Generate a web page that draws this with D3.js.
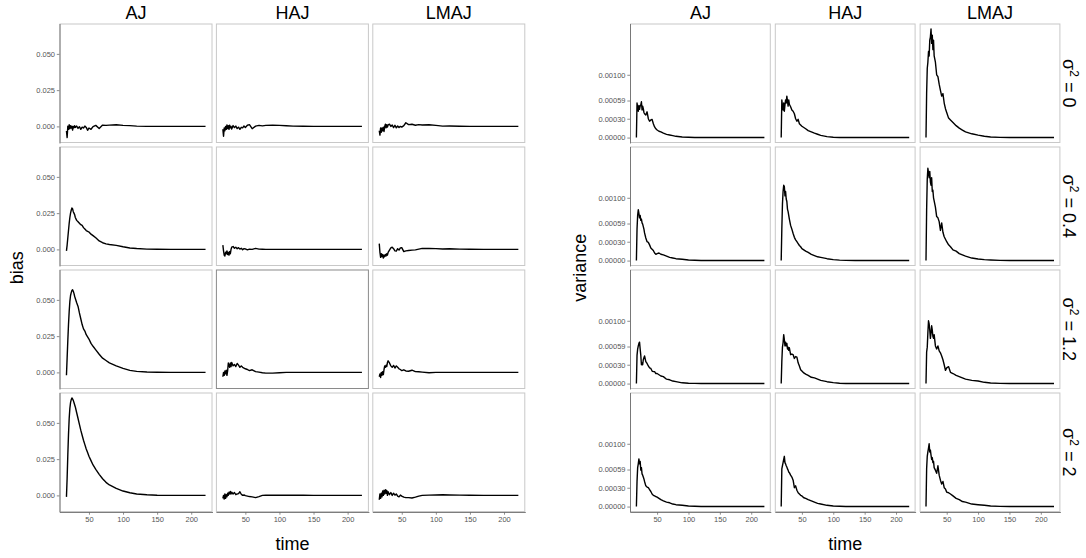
<!DOCTYPE html>
<html><head><meta charset="utf-8">
<script src="https://cdn.jsdelivr.net/npm/d3@7"></script>
<style>
body{margin:0;background:#fff}
svg{display:block}
text{font-family:"Liberation Sans",Arial,Helvetica,sans-serif}
</style>
</head><body>
<svg id="chart" width="1086" height="558"></svg>
<script>
// ---------- data ----------
const methods = ["AJ", "HAJ", "LMAJ"];
const sigmaLabels = ["0", "0.4", "1.2", "2"];
const time = [17,18,19,20,21,22,23,24,25,26,27,28,29,30,32,34,36,38,40,42,44,46,48,50,53,56,60,65,70,75,80,90,100,110,120,135,150,170,190,221];
const timeTicks = [50, 100, 150, 200];
const biasTicks = [0, 0.025, 0.05];
const varTicks = [0, 0.0003, 0.00059, 0.001];

// bias, sigma^2 = 0
const bias_AJ_0   = [-0.0032,-0.0077,0.0002,-0.002,0.0011,-0.0016,0.0005,-0.0011,0.0002,-0.0025,0,-0.0009,0.0005,-0.0007,0.0002,-0.0014,-0.0002,-0.002,-0.0005,-0.0011,0.0002,-0.0007,-0.0027,-0.0011,-0.002,-0.0002,0.0007,-0.0014,0.0009,0.0007,0.0009,0.0011,0.0007,0.0005,0.0002,0,0,0,0,0];
const bias_HAJ_0  = [-0.002,-0.0068,-0.001,-0.003,0,-0.002,0.001,-0.0015,0.0005,-0.002,0.0008,-0.001,0,-0.0018,0.0006,-0.0008,0.0002,-0.0015,-0.0005,-0.002,-0.0006,-0.001,0.0003,-0.0008,0.0008,0.0012,-0.0016,0.0002,0.0007,0.0004,0.0007,0.0009,0.0007,0.0004,0.0002,0.0001,0,0,0,0];
const bias_LMAJ_0 = [-0.003,-0.006,-0.001,-0.004,-0.001,-0.003,-0.0005,-0.0035,0,0.0015,-0.001,0.0012,-0.0005,0.001,0.0015,0,0.001,-0.0008,0.0008,-0.001,0.0003,-0.0008,0,-0.0005,0.0005,0.0025,0.0012,0.0015,0.0008,0.0012,0.001,0.0011,0.0007,0.0002,0.0003,0.0001,0,0,0,0];
// bias, sigma^2 = 0.4
const bias_AJ_04   = [-0.001,0.003,0.008,0.013,0.018,0.022,0.025,0.027,0.0285,0.028,0.026,0.025,0.024,0.022,0.020,0.019,0.018,0.017,0.0165,0.015,0.014,0.013,0.0125,0.012,0.0105,0.0095,0.008,0.0058,0.0046,0.0038,0.0034,0.0028,0.0018,0.001,0.0006,0.0002,0.0001,0,0,0];
const bias_HAJ_04  = [0.003,-0.001,-0.004,-0.0045,-0.002,-0.003,-0.001,-0.0035,-0.002,-0.004,-0.0015,-0.003,0,0.0015,0.002,0.0008,0.0015,0.0005,0.0012,0.0002,0.0008,-0.0002,0.0005,0.0003,-0.0003,0.0002,0,0.0007,0.0002,0.0001,0,0,0,0,0,0,0,0,0,0];
const bias_LMAJ_04 = [0.004,-0.002,-0.0055,-0.003,-0.005,-0.0035,-0.006,-0.004,-0.005,-0.0035,-0.0045,-0.003,-0.004,-0.002,-0.0005,0.001,0.0015,0.0005,-0.001,-0.0012,0.0005,-0.0005,0.001,0.0012,-0.0015,-0.001,-0.0008,-0.0005,-0.0003,0.0002,0.0007,0.0006,0.0005,0.0003,0.0004,0.0002,0.0001,0,0,0];
// bias, sigma^2 = 1.2
const bias_AJ_12   = [-0.002,0.010,0.022,0.033,0.042,0.049,0.053,0.055,0.0565,0.057,0.056,0.0545,0.0525,0.051,0.048,0.0455,0.041,0.037,0.033,0.030,0.0285,0.026,0.0245,0.023,0.020,0.018,0.0155,0.0125,0.0098,0.0082,0.0066,0.0045,0.0028,0.0014,0.0007,0.0003,0.0001,0,0,0];
const bias_HAJ_12  = [-0.003,0,-0.002,0.001,-0.001,0.0015,-0.002,0.001,0.0065,0.005,0.0035,0.0065,0.004,0.0068,0.0045,0.0055,0.004,0.0062,0.005,0.0035,0.0045,0.0035,0.003,0.0025,0.002,0.0012,0.0018,0.0005,0.0002,-0.0002,-0.0005,-0.0005,-0.0002,0,0,0,0,0,0,0];
const bias_LMAJ_12 = [-0.003,-0.001,-0.0035,0,-0.002,0.0005,-0.0015,0.002,0.0045,0.0035,0.005,0.004,0.0068,0.008,0.0065,0.0045,0.0035,0.0048,0.003,0.0045,0.0035,0.0025,0.002,0.0012,0.0018,0.001,0.0008,0.0015,0.0005,0.0004,0.0002,-0.0002,0,0,0,0,0,0,0,0];
// bias, sigma^2 = 2
const bias_AJ_2   = [-0.001,0.012,0.028,0.042,0.053,0.060,0.064,0.066,0.0672,0.0665,0.0655,0.064,0.0625,0.061,0.057,0.053,0.049,0.045,0.0415,0.038,0.035,0.032,0.0295,0.027,0.024,0.021,0.018,0.0145,0.0115,0.009,0.0072,0.0048,0.003,0.0018,0.001,0.0004,0.0001,0,0,0];
const bias_HAJ_2  = [-0.002,0,-0.0025,0.001,-0.002,0.0005,-0.001,0.0015,0,0.0022,0.001,0.0028,0.001,0.0022,0.001,0.002,0.0005,0.001,0.0012,0.0025,0.0008,0,0.0003,-0.0002,-0.0005,-0.0008,-0.001,-0.0015,-0.0008,0,0.0001,0.0001,0.0001,0.0001,0.0001,0.0001,0,0,0,0];
const bias_LMAJ_2 = [-0.003,0.001,-0.002,0.0015,-0.001,0.003,0,0.0035,0.001,0.004,0.0015,0.0035,0,0.0025,0.0005,0.002,0,0.0015,0.0002,0.001,-0.0005,-0.001,0.0002,-0.0005,-0.0012,-0.0015,-0.0015,-0.0018,-0.0012,-0.0005,0,0.0002,0.0003,0.0004,0.0003,0.0002,0.0001,0,0,0];

// variance, sigma^2 = 0
const var_AJ_0   = [0,0.00055,0.00048,0.00042,0.00051,0.00045,0.0005,0.00052,0.00057,0.00044,0.0005,0.00046,0.0004,0.00038,0.00036,0.00041,0.0003,0.00026,0.00028,0.00029,0.00022,0.00017,0.00014,0.00012,0.0001,0.00009,0.00007,0.00005,0.00004,0.00003,0.00002,0.00001,0.000005,0.000002,0,0,0,0,0,0];
const var_HAJ_0  = [0,0.0006,0.0005,0.00044,0.00055,0.00042,0.00052,0.0006,0.00055,0.00066,0.00058,0.0005,0.0006,0.00053,0.00049,0.00044,0.00042,0.00038,0.0003,0.00026,0.00029,0.00022,0.0002,0.00018,0.00016,0.00014,0.00011,0.00009,0.00007,0.000053,0.000035,0.000015,0.000005,0.000002,0,0,0,0,0,0];
const var_LMAJ_0 = [0,0.0007,0.0011,0.0012,0.00137,0.0013,0.00155,0.0016,0.00173,0.0015,0.00163,0.0014,0.00155,0.0013,0.0012,0.001,0.00097,0.00085,0.00075,0.00066,0.0007,0.00055,0.00046,0.0004,0.00031,0.00028,0.00024,0.00019,0.00015,0.00012,0.00009,0.00006,0.000038,0.00002,0.00001,0.000003,0,0,0,0];
// variance, sigma^2 = 0.4
const var_AJ_04   = [0,0.0005,0.00072,0.00081,0.00075,0.00068,0.00072,0.00064,0.00066,0.0006,0.00058,0.00054,0.0005,0.00044,0.00036,0.0003,0.00029,0.00025,0.0002,0.00018,0.00016,0.00012,0.0001,0.00011,0.00012,0.0001,0.00009,0.00007,0.00005,0.00004,0.00003,0.00002,0.00001,0.000005,0.000002,0,0,0,0,0];
const var_HAJ_04  = [0,0.0005,0.0009,0.0011,0.0012,0.00118,0.00103,0.0011,0.00098,0.00094,0.00082,0.00078,0.00072,0.00066,0.00056,0.0005,0.00043,0.00037,0.00033,0.0003,0.00027,0.00024,0.00022,0.00019,0.00017,0.00015,0.00013,0.0001,0.00008,0.00006,0.00005,0.00003,0.000015,0.000007,0.000003,0.000001,0,0,0,0];
const var_LMAJ_04 = [0,0.0008,0.0013,0.00147,0.0014,0.00132,0.00142,0.00125,0.0012,0.00132,0.0011,0.00112,0.001,0.00095,0.00085,0.0007,0.00068,0.00062,0.00048,0.0006,0.00045,0.00038,0.00034,0.0003,0.00025,0.00022,0.00017,0.00015,0.00011,0.00009,0.00007,0.00004,0.000025,0.000015,0.00001,0.000003,0,0,0,0];
// variance, sigma^2 = 1.2
const var_AJ_12   = [0,0.00045,0.00055,0.0006,0.00064,0.00066,0.00055,0.00045,0.0003,0.00033,0.0003,0.00038,0.00041,0.00044,0.00035,0.00032,0.00028,0.00025,0.00024,0.0002,0.00019,0.00019,0.00016,0.00016,0.00014,0.00012,0.00011,0.00007,0.00006,0.00004,0.00003,0.000012,0.000006,0.000003,0.000001,0,0,0,0,0];
const var_HAJ_12  = [0,0.00035,0.00058,0.00065,0.00078,0.0007,0.0006,0.00066,0.0006,0.00064,0.00055,0.00058,0.00053,0.00057,0.00046,0.00047,0.00046,0.0004,0.00043,0.00042,0.00033,0.00028,0.00022,0.0002,0.00017,0.00015,0.00013,0.0001,0.00009,0.00007,0.00005,0.00003,0.000015,0.000006,0.000002,0,0,0,0,0];
const var_LMAJ_12 = [0,0.0005,0.00058,0.00081,0.001,0.00095,0.00085,0.00072,0.0008,0.00092,0.00085,0.00075,0.00072,0.00078,0.0006,0.00055,0.0006,0.00052,0.00049,0.00044,0.00038,0.0003,0.00021,0.00025,0.00027,0.00018,0.00016,0.00013,0.00011,0.00009,0.00007,0.00005,0.00004,0.00002,0.00001,0.000003,0,0,0,0];
// variance, sigma^2 = 2
const var_AJ_2   = [0,0.0004,0.00062,0.00068,0.00076,0.00068,0.00072,0.00058,0.00062,0.00052,0.0005,0.00047,0.00044,0.0004,0.00033,0.00031,0.0003,0.00027,0.00024,0.0002,0.00018,0.00017,0.00016,0.00015,0.00013,0.00011,0.00009,0.00007,0.00006,0.00004,0.00003,0.00002,0.00001,0.000005,0.000002,0,0,0,0,0];
const var_HAJ_2  = [0,0.0006,0.00065,0.0007,0.00075,0.0008,0.0007,0.00068,0.00065,0.00063,0.0006,0.00058,0.00055,0.00054,0.0005,0.00047,0.00042,0.0003,0.00033,0.00026,0.00022,0.0002,0.00018,0.00017,0.00014,0.00013,0.00011,0.00009,0.00007,0.00005,0.00004,0.00002,0.00001,0.000005,0.000002,0,0,0,0,0];
const var_LMAJ_2 = [0,0.0006,0.0008,0.00087,0.00093,0.001,0.00087,0.0009,0.00082,0.00075,0.00078,0.0007,0.00072,0.00062,0.00058,0.00053,0.00065,0.0005,0.00042,0.00036,0.0004,0.0003,0.00028,0.00023,0.00022,0.0002,0.00017,0.00013,0.00011,0.00008,0.00007,0.00004,0.00003,0.00002,0.00001,0.000003,0,0,0,0];

const biasRows = [
  [bias_AJ_0, bias_HAJ_0, bias_LMAJ_0],
  [bias_AJ_04, bias_HAJ_04, bias_LMAJ_04],
  [bias_AJ_12, bias_HAJ_12, bias_LMAJ_12],
  [bias_AJ_2, bias_HAJ_2, bias_LMAJ_2]
];
const varRows = [
  [var_AJ_0, var_HAJ_0, var_LMAJ_0],
  [var_AJ_04, var_HAJ_04, var_LMAJ_04],
  [var_AJ_12, var_HAJ_12, var_LMAJ_12],
  [var_AJ_2, var_HAJ_2, var_LMAJ_2]
];

// ---------- drawing ----------
const svg = d3.select("#chart");
svg.append("rect").attr("width", 1086).attr("height", 558).attr("fill", "#fff");

function expand(ext) {
  const pad = (ext[1] - ext[0]) * 0.05;
  return [ext[0] - pad, ext[1] + pad];
}

function styleAxis(ax) {
  ax.attr("color", "#555");
  ax.select(".domain").attr("stroke", "#6e6e6e").attr("stroke-width", 0.9);
  ax.selectAll(".tick line").attr("stroke", "#6e6e6e").attr("stroke-width", 0.8);
  ax.selectAll(".tick text").attr("fill", "#555").style("font-size", "7.5px")
    .style("font-family", '"Liberation Sans",Arial,sans-serif');
}

function facetPlot(cfg) {
  const g = svg.append("g");
  const all = cfg.rows.flat(2);
  const x = d3.scaleLinear().domain(expand(d3.extent(time))).range([0, cfg.pw]);
  const y = d3.scaleLinear().domain(expand(d3.extent(all))).range([cfg.ph, 0]);
  const line = d3.line().x((d, i) => x(time[i])).y(d => y(d));

  cfg.rows.forEach((row, r) => {
    row.forEach((series, c) => {
      const px = cfg.x0 + c * (cfg.pw + cfg.gx);
      const py = cfg.y0 + r * (cfg.ph + cfg.gy);
      const p = g.append("g").attr("transform", `translate(${px},${py})`);
      const hl = cfg.highlight && cfg.highlight[0] === r && cfg.highlight[1] === c;
      p.append("rect")
        .attr("x", 0.5).attr("y", 0.5)
        .attr("width", cfg.pw - 1).attr("height", cfg.ph - 1)
        .attr("fill", "#fff")
        .attr("stroke", hl ? "#8a8a8a" : "#c8c8c8")
        .attr("stroke-width", 1);
      p.append("path").datum(series)
        .attr("d", line)
        .attr("fill", "none")
        .attr("stroke", "#000")
        .attr("stroke-width", 1.4)
        .attr("stroke-linejoin", "round");

      if (c === 0) {
        const ax = p.append("g").call(d3.axisLeft(y).tickValues(cfg.yTicks).tickFormat(cfg.fmt)
          .tickSize(2.7).tickSizeOuter(0).tickPadding(1.8));
        styleAxis(ax);
      }
      if (r === cfg.rows.length - 1) {
        const ax = p.append("g").attr("transform", `translate(0,${cfg.ph})`)
          .call(d3.axisBottom(x).tickValues(timeTicks).tickSize(2.7).tickSizeOuter(0).tickPadding(1.8));
        styleAxis(ax);
      }
      if (r === 0) {
        g.append("text")
          .attr("x", px + cfg.pw / 2).attr("y", cfg.y0 - 4.5)
          .attr("text-anchor", "middle")
          .style("font-size", "18px").attr("fill", "#000")
          .text(methods[c]);
      }
      if (cfg.rowStrips && c === row.length - 1) {
        const t = g.append("text")
          .attr("transform", `translate(${px + cfg.pw + 3},${py + cfg.ph / 2}) rotate(90)`)
          .attr("text-anchor", "middle")
          .style("font-size", "18px").attr("fill", "#000");
        t.append("tspan").text("σ");
        t.append("tspan").attr("dy", -7).style("font-size", "12px").text("2");
        t.append("tspan").attr("dy", 7).text(" = " + sigmaLabels[r]);
      }
    });
  });

  const totalW = 3 * cfg.pw + 2 * cfg.gx;
  const totalH = 4 * cfg.ph + 3 * cfg.gy;
  g.append("text")
    .attr("x", cfg.x0 + totalW / 2).attr("y", 549.5)
    .attr("text-anchor", "middle").style("font-size", "18px").attr("fill", "#000")
    .text("time");
  g.append("text")
    .attr("transform", `translate(${cfg.ylabX},${cfg.y0 + totalH / 2}) rotate(-90)`)
    .attr("text-anchor", "middle").style("font-size", "18px").attr("fill", "#000")
    .text(cfg.ylab);
}

facetPlot({
  rows: biasRows, x0: 59.5, y0: 23.5, pw: 153, ph: 119.5, gx: 3.4, gy: 3.5,
  yTicks: biasTicks, fmt: d3.format(".3f"), ylab: "bias", ylabX: 23,
  rowStrips: false, highlight: [2, 1]
});
facetPlot({
  rows: varRows, x0: 630, y0: 23.5, pw: 140.8, ph: 119.5, gx: 4, gy: 3.5,
  yTicks: varTicks, fmt: d3.format(".5f"), ylab: "variance", ylabX: 586,
  rowStrips: true, highlight: null
});
</script>
</body></html>
